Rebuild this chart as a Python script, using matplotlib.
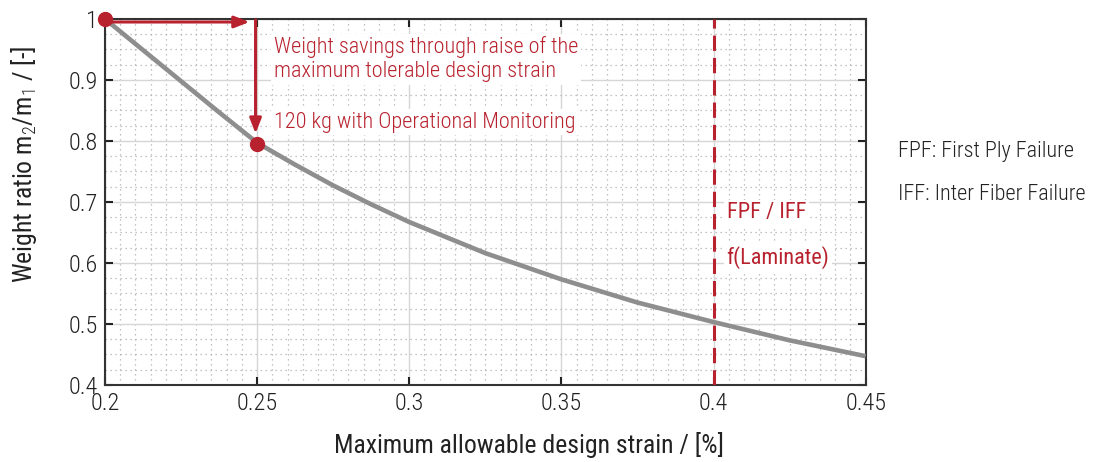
import matplotlib
matplotlib.use("Agg")
import matplotlib.pyplot as plt
from matplotlib.ticker import MultipleLocator

# data
strain = [0.2, 0.2125, 0.225, 0.2375, 0.25, 0.2625, 0.275, 0.2875, 0.3, 0.325,
          0.35, 0.375, 0.4, 0.425, 0.45]
weight_ratio = [1.0, 0.949, 0.898, 0.847, 0.797, 0.761, 0.727, 0.696, 0.667, 0.616,
                0.573, 0.535, 0.503, 0.473, 0.447]
points_x = [0.2, 0.25]
points_y = [1.0, 0.795]
limit_strain = 0.4
x_ticks = [0.2, 0.25, 0.3, 0.35, 0.4, 0.45]
x_ticklabels = ["0.2", "0.25", "0.3", "0.35", "0.4", "0.45"]
y_ticks = [0.4, 0.5, 0.6, 0.7, 0.8, 0.9, 1.0]
y_ticklabels = ["0.4", "0.5", "0.6", "0.7", "0.8", "0.9", "1"]

RED = "#B8222E"
GREY = "#8E8E8E"
plt.rcParams["font.family"] = ["Roboto Condensed", "DejaVu Sans"]
plt.rcParams["font.weight"] = 300
plt.rcParams["mathtext.fontset"] = "custom"
plt.rcParams["mathtext.rm"] = "Roboto Condensed:light"
plt.rcParams["mathtext.it"] = "Roboto Condensed:light"

fig = plt.figure(figsize=(10.93, 4.62), dpi=100)
ax = fig.add_axes([0.096, 0.167, 0.696, 0.792])

ax.set_xlim(0.2, 0.45)
ax.set_ylim(0.4, 1.0)
ax.set_xticks(x_ticks)
ax.set_xticklabels(x_ticklabels)
ax.set_yticks(y_ticks)
ax.set_yticklabels(y_ticklabels)
ax.xaxis.set_minor_locator(MultipleLocator(0.005))
ax.yaxis.set_minor_locator(MultipleLocator(0.025))

# grids
ax.grid(which="major", color="#D6D6D6", linewidth=1.0, zorder=0)
ax.grid(which="minor", color="#B0B0B0", linewidth=0.9, linestyle=(0, (1, 3)), zorder=0)
ax.set_axisbelow(True)

ax.tick_params(which="major", direction="in", length=6, width=1.5, top=True, right=True,
               labelsize=17.5, color="#222222", labelcolor="#222222", pad=5)
ax.tick_params(which="minor", length=0)
for s in ax.spines.values():
    s.set_linewidth(1.5)
    s.set_color("#333333")

# curve and limit
ax.plot(strain, weight_ratio, color=GREY, linewidth=3.3, solid_capstyle="butt",
        solid_joinstyle="round", zorder=3)
ax.axvline(limit_strain, color=RED, linewidth=2.2, dashes=(5, 2.3), zorder=3)

# arrows
ax.annotate("", xy=(0.2475, 0.995), xytext=(0.2, 0.995),
            arrowprops=dict(arrowstyle="-|>,head_length=0.9,head_width=0.35",
                            color=RED, lw=2.2, shrinkA=0, shrinkB=0), zorder=4)
ax.annotate("", xy=(0.2495, 0.812), xytext=(0.2495, 0.998),
            arrowprops=dict(arrowstyle="-|>,head_length=0.9,head_width=0.35",
                            color=RED, lw=2.2, shrinkA=0, shrinkB=0), zorder=4)
ax.plot(points_x, points_y, "o", color=RED, markersize=10, zorder=5, clip_on=False)

# annotation texts
box = dict(facecolor="white", edgecolor="none", pad=2)
ax.text(0.2555, 0.934, "Weight savings through raise of the\nmaximum tolerable design strain",
        color=RED, fontsize=16, va="center", ha="left", linespacing=1.15, bbox=box, zorder=4)
ax.text(0.2555, 0.831, "120 kg with Operational Monitoring",
        color=RED, fontsize=16, va="center", ha="left", bbox=box, zorder=4)
ax.text(0.4043, 0.682, "FPF / IFF", color=RED, fontsize=16, fontweight="normal",
        va="center", ha="left", bbox=box, zorder=4)
ax.text(0.4043, 0.608, "f(Laminate)", color=RED, fontsize=16, fontweight="normal",
        va="center", ha="left", bbox=box, zorder=4)

ax.set_xlabel("Maximum allowable design strain / [%]", fontsize=18.5, color="#222222")
ax.set_ylabel("Weight ratio m$_2$/m$_1$ / [-]", fontsize=18.5, color="#222222")
ax.xaxis.set_label_coords(0.558, -0.128)
ax.yaxis.set_label_coords(-0.087, 0.604)

fig.text(0.8216, 0.671, "FPF: First Ply Failure", fontsize=16, va="center", color="#222222")
fig.text(0.8216, 0.578, "IFF: Inter Fiber Failure", fontsize=16, va="center", color="#222222")

fig.savefig("out.png", dpi=100)
